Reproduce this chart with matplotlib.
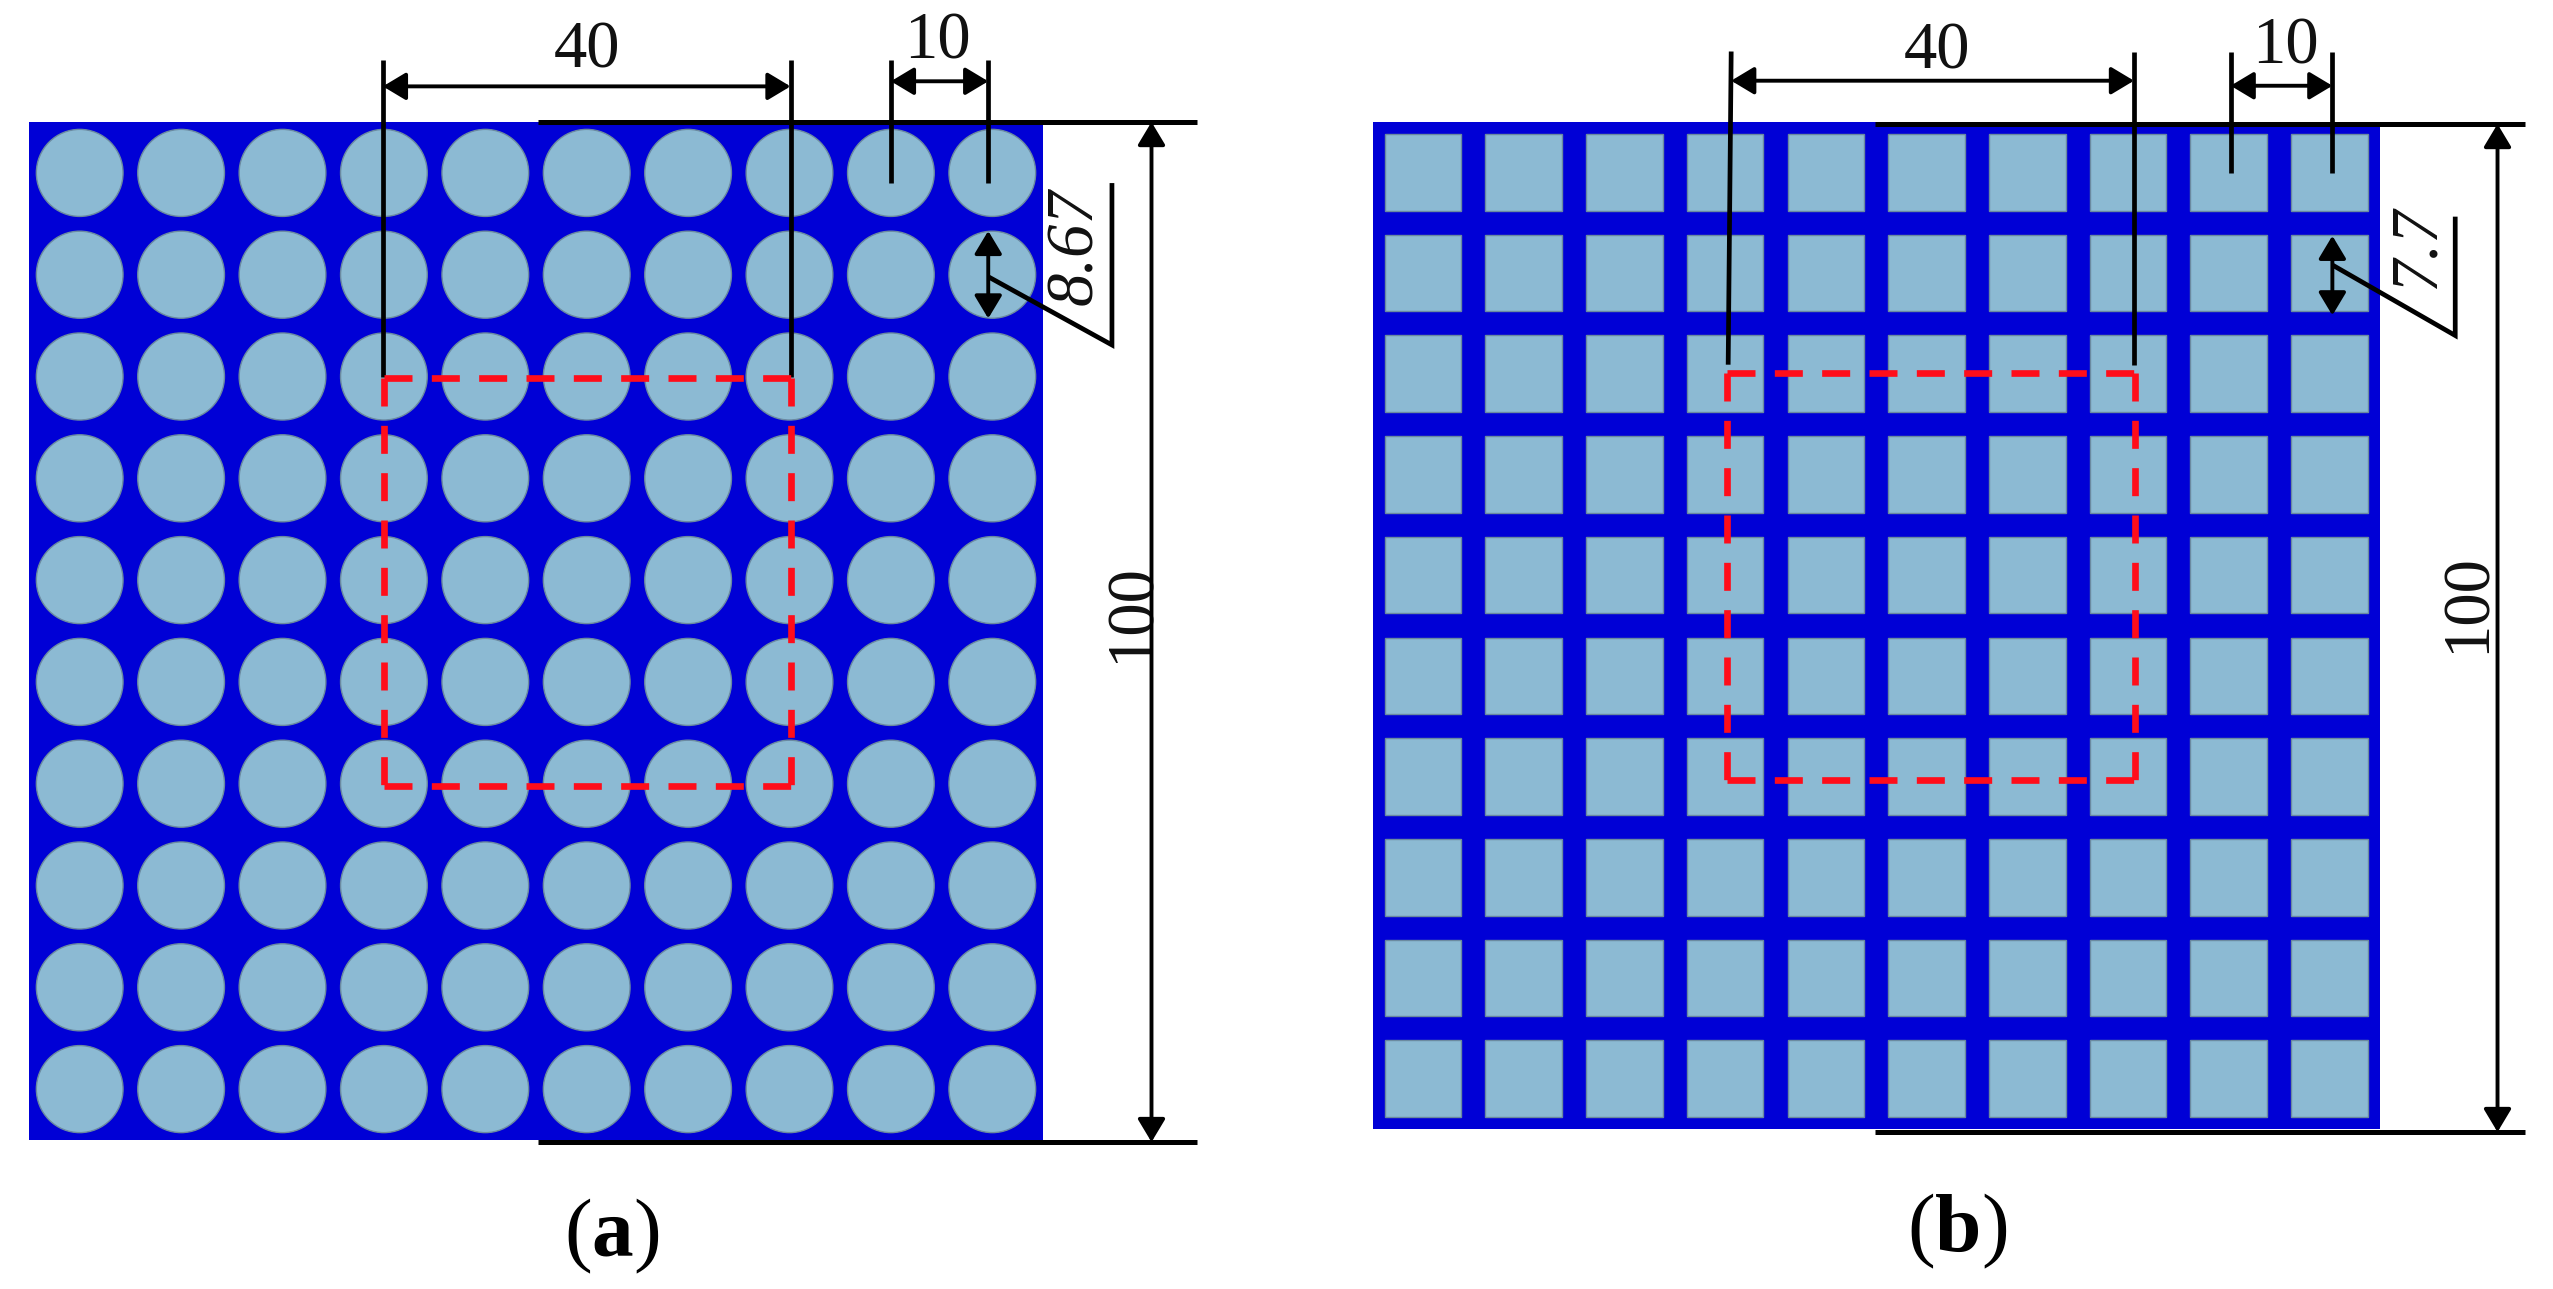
import numpy as np
import matplotlib
matplotlib.use('Agg')
import matplotlib.pyplot as plt
from matplotlib.patches import Ellipse, Rectangle

plt.rcParams['font.family'] = ['Liberation Serif', 'DejaVu Serif']
plt.rcParams['mathtext.fontset'] = 'custom'
plt.rcParams['mathtext.rm'] = 'Liberation Serif'
plt.rcParams['mathtext.bf'] = 'Liberation Serif:bold'

W, H = 2553, 1289

# hole grid, all lengths in mm (plate is 100 x 100)
hole_x = [5, 15, 25, 35, 45, 55, 65, 75, 85, 95]
hole_y = [5, 15, 25, 35, 45, 55, 65, 75, 85, 95]
plate_size = 100
circle_d = 8.55
square_w = 7.6

# dimension labels
label_40 = '40'
label_10 = '10'
label_100 = '100'
label_a = '8.67'
label_b = '7.7'

PLATE = '#0000d6'
HOLE = '#8cbad3'
HOLE_EDGE = '#6b8aa0'
RED = '#ff0d1a'


def make_axes(px_left, px_right, x0, sx, y0, sy):
    # axes covers a pixel column of the figure, data units are mm
    ax = fig.add_axes([px_left / W, 0, (px_right - px_left) / W, 1])
    ax.set_xlim((px_left - x0) / sx, (px_right - x0) / sx)
    ax.set_ylim((H - y0) / sy, -y0 / sy)
    ax.axis('off')
    return ax


def line(ax, xs, ys, lw=3.4):
    ax.plot(xs, ys, color='black', lw=lw, solid_capstyle='butt', solid_joinstyle='miter', zorder=5)


def dim(ax, p, q):
    ax.annotate('', xy=q, xytext=p, zorder=6,
                arrowprops=dict(arrowstyle='<|-|>,head_length=0.7,head_width=0.42', mutation_scale=20,
                                color='black', lw=2.8, shrinkA=0, shrinkB=0))


def drawing(ax, dd):
    line(ax, [dd['x1'], dd['x1b']], [dd['top'], dd['low40']])
    line(ax, [dd['x2'], dd['x2']], [dd['top'], dd['low40']])
    line(ax, [dd['x3'], dd['x3']], [dd['top'], dd['low10']])
    line(ax, [dd['x4'], dd['x4']], [dd['top'], dd['low10']])
    dim(ax, (dd['x1'], dd['y40']), (dd['x2'], dd['y40']))
    dim(ax, (dd['x3'], dd['y10']), (dd['x4'], dd['y10']))
    line(ax, [dd['ext0'], dd['ext1']], [dd['ytop'], dd['ytop']], lw=3.6)
    line(ax, [dd['ext0'], dd['ext1']], [dd['ybot'], dd['ybot']], lw=3.6)
    dim(ax, (dd['xdim'], dd['ytop']), (dd['xdim'], dd['ybot']))
    dim(ax, (dd['x4'], dd['a0']), (dd['x4'], dd['a1']))
    line(ax, [dd['x4'], dd['lx'], dd['lx']], [dd['ly0'], dd['ly1'], dd['ly2']])
    # red dashed box, every side starts from its own corner
    xa, xb, ya, yb = dd['box']
    for xs, ys in [([xa, xb], [ya, ya]), ([xa, xa], [ya, yb]), ([xa, xb], [yb, yb]), ([xb, xb], [ya, yb])]:
        ax.plot(xs, ys, color=RED, lw=4.8, linestyle=(0, (4.2, 2.9)), dash_capstyle='butt', zorder=7)
    ax.text(dd['t40'][0], dd['t40'][1], label_40, fontsize=48, ha='center', va='center', color='#111111')
    ax.text(dd['t10'][0], dd['t10'][1], label_10, fontsize=48, ha='center', va='center', color='#111111')
    ax.text(dd['t100'][0], dd['t100'][1], label_100, fontsize=48, rotation=90, ha='center', va='center', color='#111111')
    ax.text(dd['tlab'][0], dd['tlab'][1], dd['lab'], fontsize=48, rotation=90, style='italic',
            ha='center', va='center', color='#111111')
    ax.text(dd['cap'][0], dd['cap'][1], dd['captxt'], fontsize=60, ha='center', va='center', color='black')


fig = plt.figure(figsize=(W / 100, H / 100), dpi=100)
fig.patch.set_facecolor('white')

# panel a, circular holes
ax1 = make_axes(0, 1270, 29, 10.14, 122, 10.18)
ax1.add_patch(Rectangle((0, 0), plate_size, plate_size, fc=PLATE, ec='none', zorder=1))
for cx in hole_x:
    for cy in hole_y:
        ax1.add_patch(Ellipse((cx, cy), circle_d, circle_d, fc=HOLE, ec=HOLE_EDGE, lw=1.0, zorder=2))
drawing(ax1, dict(x1=34.9, x1b=34.9, x2=75.1, x3=85.0, x4=94.6, top=-6.1, low40=25.0, low10=6.0,
                  y40=-3.5, y10=-4.0, ext0=50.2, ext1=115.2, ytop=0.0, ybot=100.2, xdim=110.7,
                  a0=10.7, a1=19.3, lx=106.8, ly0=15.2, ly1=21.9, ly2=6.0,
                  box=(35.0, 75.1, 25.1, 65.2), t40=(55.0, -7.0), t10=(89.6, -7.9), t100=(108.8, 48.2),
                  tlab=(103.2, 12.2), lab=label_a, cap=(57.5, 109.5), captxt=r'($\mathbf{a}$)'))

# panel b, square holes
ax2 = make_axes(1270, W, 1372.7, 10.07, 122, 10.07)
ax2.add_patch(Rectangle((0, 0), plate_size, plate_size, fc=PLATE, ec='none', zorder=1))
for cx in hole_x:
    for cy in hole_y:
        ax2.add_patch(Rectangle((cx - square_w / 2, cy - square_w / 2), square_w, square_w,
                                fc=HOLE, ec=HOLE_EDGE, lw=1.0, zorder=2))
drawing(ax2, dict(x1=35.6, x1b=35.3, x2=75.6, x3=85.2, x4=95.3, top=-7.0, low40=24.1, low10=5.1,
                  y40=-4.1, y10=-3.6, ext0=49.9, ext1=114.4, ytop=0.2, ybot=100.3, xdim=111.7,
                  a0=11.3, a1=19.2, lx=107.5, ly0=14.2, ly1=21.2, ly2=9.4,
                  box=(35.2, 75.7, 24.9, 65.3), t40=(56.0, -7.0), t10=(90.6, -7.45), t100=(108.8, 47.8),
                  tlab=(103.7, 12.4), lab=label_b, cap=(58.0, 110.2), captxt=r'($\mathbf{b}$)'))

fig.savefig('out.png', dpi=100, facecolor='white')
